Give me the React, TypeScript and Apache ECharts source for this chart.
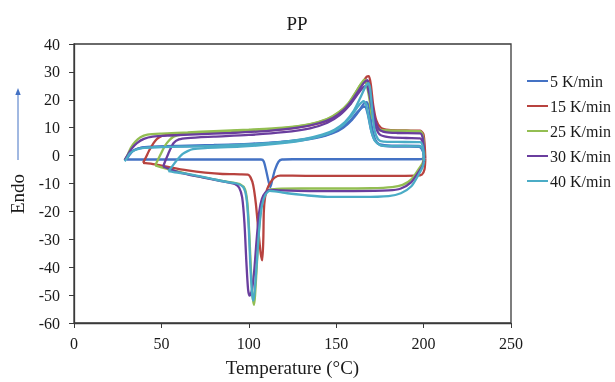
import React, { useEffect, useRef } from "react";
import * as echarts from "echarts";

const seriesNames = ["5 K/min", "15 K/min", "25 K/min", "30 K/min", "40 K/min"];
const seriesColors = ["#4472C4", "#B8433F", "#93BE52", "#6A3E9E", "#4BACC6"];
const xTicks = [0, 50, 100, 150, 200, 250];
const yTicks = [-60, -50, -40, -30, -20, -10, 0, 10, 20, 30, 40];

// 5 K/min
const blueHeat1 = [[29,-1.6],[30.5,-0.2],[33,1.5],[37,2.6],[42,3.0],[55,3.2],[75,3.5],[95,3.9],[115,4.6],[130,5.5],[140,6.5],[148,8],[154,10],[159,12.8],[163,16],[166,18.8],[167.5,19.2],[169,16.5],[170.5,10],[172.5,5.5],[175,3.8],[180,3.3],[190,3.2],[197.5,3.1],[199.3,2],[200.2,0]];
const blueCool = [[200.2,0],[199.5,-1.2],[197,-1.3],[160,-1.3],[125,-1.3],[119,-1.4],[117,-2.2],[115,-5],[113.5,-8.5],[112.3,-11.3],[111.2,-9],[109.8,-5],[108.5,-2],[107,-1.4],[95,-1.4],[60,-1.4],[30,-1.4]];
const blueHeat2 = [[30,-1.4],[31.5,0],[34,1.8],[38,2.8],[44,3.2],[60,3.5],[80,3.8],[100,4.2],[120,5],[135,6.2],[145,7.5],[152,9.5],[158,12.5],[162,15.5],[165,17.3],[166.5,17.6],[168,15],[170,9],[172,5.5],[175,4],[182,3.6],[197.5,3.5],[199.3,2.2],[200.2,0]];

// 15 K/min
const redCool = [[201,-1],[200.5,-5],[199,-6.8],[196,-7.2],[170,-7.3],[140,-7.3],[125,-7.2],[118,-7.2],[115,-7.8],[112.5,-9.5],[110.5,-12],[109.3,-15],[108.6,-20],[108.3,-30],[107.7,-37.5],[106.8,-35],[105.5,-27],[104,-17],[102.5,-10.5],[101,-7.8],[99.5,-6.8],[95,-6.7],[85,-6.6],[75,-6.1],[65,-5.3],[55,-4.2],[47,-3.2],[41,-2.7],[39.5,-2.6]];
const redHeat = [[39.5,-2.6],[41,-0.8],[43,1.8],[45.5,4.5],[47.5,6],[50,7],[55,7.5],[62,7.8],[80,8.2],[100,8.7],[120,9.5],[135,10.8],[145,12.5],[152,14.8],[158,18.5],[162,22.5],[165.5,26.5],[167.5,28.3],[168.7,28.5],[169.8,25.5],[171.2,18],[173,12.5],[175.5,10],[180,9.2],[190,9],[198,8.9],[200,7.5],[201,-1]];

// 25 K/min
const greenHeat1 = [[29,-1.6],[30.5,0],[32.5,2.8],[35,5],[38,6.6],[42,7.5],[50,7.9],[65,8.3],[80,8.8],[100,9.3],[120,10],[135,11.3],[145,13.2],[152,15.8],[157,18.8],[161,22.5],[164,25.5],[166.2,27.2],[167.5,26.5],[169,22],[170.5,15],[172.5,10.8],[175,9.3],[180,9],[190,8.9],[198,8.8],[199.6,7],[200.3,0]];
const greenCool = [[200.3,0],[199.5,-2.5],[197,-5],[193,-8.5],[188,-10.5],[182,-11.3],[170,-11.7],[150,-11.8],[130,-11.8],[116,-11.9],[112,-12.2],[109.5,-13.5],[107.5,-17],[106,-25],[104.7,-38],[103.6,-50],[103,-53.5],[102.3,-51],[101.3,-42],[100.3,-28],[99.2,-17],[97.8,-12],[95,-10.3],[90,-9.6],[85,-9.1],[75,-7.9],[65,-6.6],[57,-5.3],[50,-4.2],[46.5,-3.5]];
const greenHeat2 = [[46.5,-3.5],[48,-1.5],[50,1],[52,3.5],[54.5,5.5],[57,6.8],[62,7.5],[75,8.2],[95,8.9],[115,9.6],[132,10.8],[144,12.8],[151,15.2],[157,18.7],[161,22.5],[164,25.5],[165.8,26.6],[167.2,25.8],[168.8,21],[170.5,14],[172.5,10.5],[175,9],[180,8.7],[198,8.6],[199.6,6.8],[200.3,0]];

// 30 K/min
const purpleHeat1 = [[29,-1.6],[30.5,0],[33,2.5],[36,4.5],[40,6],[45,6.8],[55,7.2],[70,7.6],[90,8.1],[110,8.8],[127,9.9],[140,11.6],[148,13.5],[154,16.2],[159,19.8],[163,23.5],[166,26.2],[167.8,27],[169,25],[170.5,19],[172,13.5],[174.5,9.5],[178,8.4],[185,8.1],[198,8],[199.6,6],[200.3,-1]];
const purpleCool = [[200.3,-1],[199.5,-3.5],[197,-6],[193,-9.5],[187,-11.8],[180,-12.5],[160,-12.7],[135,-12.7],[118,-12.5],[112,-12.3],[109.5,-13.2],[107.5,-15.5],[106,-20],[104.5,-30],[103,-42],[101.7,-48.5],[100.5,-50.2],[99.6,-48],[98.6,-38],[97.5,-24],[96.2,-15],[94.5,-11.5],[92,-10.2],[88,-9.6],[80,-8.6],[70,-7.4],[60,-6],[55,-4.9],[51,-3.9]];
const purpleHeat2 = [[51,-3.9],[52.5,-1.5],[54.5,1.5],[57,4.5],[60,5.8],[65,6.3],[80,6.8],[100,7.4],[120,8.4],[135,9.8],[145,11.8],[152,14.5],[158,18.3],[162,21.8],[165.5,24.5],[167.3,25],[168.8,22.5],[170.5,16.5],[172.5,10.5],[175,7.5],[180,6.6],[190,6.3],[198,6.2],[199.6,4.5],[200.3,-1]];

// 40 K/min
const cyanHeat1 = [[29,-2],[30.2,-1],[32,0.8],[35,2],[39,2.7],[46,3],[60,3.2],[80,3.5],[100,4],[118,4.8],[132,6],[142,7.5],[149,9.3],[155,12],[160,16],[164,21],[166.8,24.8],[168.4,26],[169.4,24],[170.6,16],[172,9],[174,5.8],[177,5],[185,4.9],[198,4.8],[199.6,3],[200.3,-2]];
const cyanCool = [[200.3,-2],[199.5,-4],[197,-7],[193,-11],[187,-13.5],[180,-14.5],[165,-14.8],[145,-14.8],[132,-14.2],[122,-13.5],[115,-12.8],[112,-12.6],[109.5,-14],[107.5,-18],[106,-26],[104.5,-39],[103.3,-49],[102.6,-52],[101.8,-49],[100.8,-38],[99.8,-24],[98.6,-15],[96.8,-11.3],[93,-10],[88,-9.5],[80,-8.5],[70,-7.2],[62,-6.3],[57,-5.9],[54,-5.6]];
const cyanHeat2 = [[54,-5.6],[56,-4],[59,-1.5],[62,0.5],[65,1.6],[68,2.3],[75,2.7],[95,3.2],[115,4.2],[130,5.4],[140,6.8],[148,8.6],[154,11],[159,14.5],[163,18],[165.6,19.5],[167,18.5],[168.5,14],[170.2,8.5],[172.5,5],[176,3.6],[185,3.4],[198,3.3],[199.6,2],[200.3,-2]];

const curveSets = [
  [blueHeat1, blueCool, blueHeat2],
  [redCool, redHeat],
  [greenHeat1, greenCool, greenHeat2],
  [purpleHeat1, purpleCool, purpleHeat2],
  [cyanHeat1, cyanCool, cyanHeat2],
];

const FONT = "'Liberation Serif', 'Times New Roman', serif";
const TXT = "#1a1a1a";
const AX = "#3a3a3a";

export default function App() {
  const ref = useRef<HTMLDivElement>(null);
  useEffect(() => {
    const chart = echarts.init(ref.current!, null, { renderer: "svg" });
    const series: any[] = [];
    curveSets.forEach((set, i) => {
      set.forEach((d) => {
        series.push({
          type: "line",
          name: seriesNames[i],
          data: d,
          showSymbol: false,
          smooth: 0.25,
          color: seriesColors[i],
          lineStyle: { width: 2.3, color: seriesColors[i] },
          z: 2 + i,
        });
      });
    });
    chart.setOption({
      animation: false,
      title: {
        text: "PP",
        left: 292,
        top: 9,
        textAlign: "center",
        textStyle: { fontFamily: FONT, fontSize: 19, fontWeight: "normal", color: TXT },
      },
      grid: {
        left: 74, right: 104, top: 44, bottom: 57,
        show: true, borderColor: AX, borderWidth: 1.3,
      },
      legend: {
        orient: "vertical",
        left: 527,
        top: 73,
        padding: 0,
        icon: "rect",
        itemWidth: 21,
        itemHeight: 2,
        itemGap: 9,
        data: seriesNames,
        textStyle: { fontFamily: FONT, fontSize: 16, color: TXT, lineHeight: 16, padding: [0, 0, 0, -3] },
      },
      xAxis: {
        type: "value",
        min: xTicks[0],
        max: xTicks[xTicks.length - 1],
        interval: 50,
        name: "Temperature (°C)",
        nameLocation: "middle",
        nameGap: 35,
        nameTextStyle: { fontFamily: FONT, fontSize: 19, color: TXT },
        axisLine: { show: true, onZero: false, lineStyle: { color: AX, width: 1.3 } },
        axisTick: { show: true, length: 5, lineStyle: { color: AX } },
        axisLabel: { fontFamily: FONT, fontSize: 16, color: TXT, margin: 12 },
        splitLine: { show: false },
      },
      yAxis: {
        type: "value",
        min: yTicks[0],
        max: yTicks[yTicks.length - 1],
        interval: 10,
        axisLine: { show: true, onZero: false, lineStyle: { color: AX, width: 1.3 } },
        axisTick: { show: true, length: 5, lineStyle: { color: AX } },
        axisLabel: { fontFamily: FONT, fontSize: 16, color: TXT, margin: 14 },
        splitLine: { show: false },
      },
      graphic: [
        {
          type: "text",
          x: 17,
          y: 194,
          rotation: Math.PI / 2,
          style: {
            text: "Endo",
            font: `19px ${FONT}`,
            fill: TXT,
            textAlign: "center",
            textVerticalAlign: "middle",
          },
        },
        {
          type: "line",
          shape: { x1: 18, y1: 160, x2: 18, y2: 94 },
          style: { stroke: "#4472C4", lineWidth: 1 },
        },
        {
          type: "polygon",
          shape: { points: [[18, 88], [15.3, 95], [20.7, 95]] },
          style: { fill: "#4472C4" },
        },
      ],
      series,
    });
    return () => chart.dispose();
  }, []);
  return <div ref={ref} style={{ position: "fixed", left: 0, top: 0, width: 615, height: 382 }} />;
}
